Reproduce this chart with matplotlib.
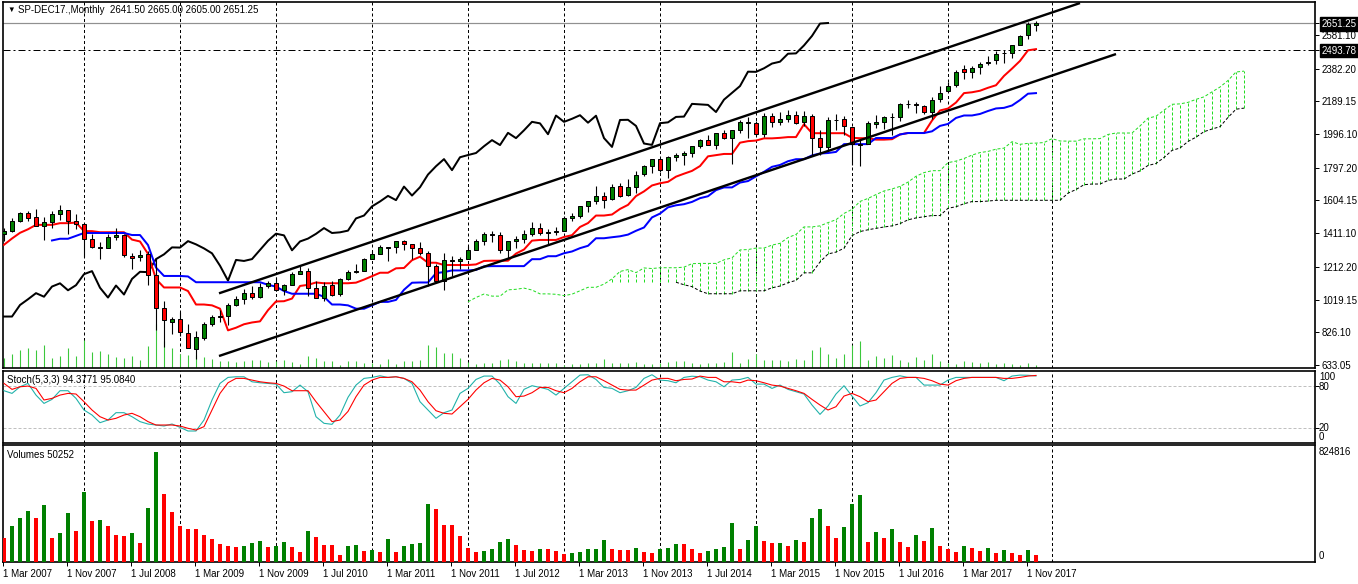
import matplotlib
matplotlib.use("Agg")
import matplotlib.pyplot as plt

plt.rcParams['font.family'] = ['Liberation Sans', 'DejaVu Sans']
plt.rcParams['lines.scale_dashes'] = False

# monthly bars, Mar 2007 .. Dec 2017 (index 0 = Mar 2007)
opens = [1407, 1421, 1482, 1531, 1505, 1455, 1474, 1527, 1546, 1480,
         1468, 1379, 1330, 1326, 1386, 1400, 1277, 1269, 1288, 1164,
         969, 889, 903, 823, 730, 794, 873, 923, 921, 990,
         1020, 1055, 1036, 1099, 1117, 1074, 1105, 1171, 1189, 1087,
         1031, 1108, 1050, 1143, 1186, 1187, 1258, 1289, 1329, 1329,
         1365, 1345, 1321, 1293, 1219, 1131, 1251, 1247, 1259, 1312,
         1365, 1408, 1398, 1310, 1362, 1379, 1407, 1441, 1412, 1416,
         1426, 1498, 1515, 1569, 1598, 1632, 1610, 1689, 1636, 1682,
         1759, 1807, 1846, 1783, 1858, 1874, 1884, 1924, 1962, 1930,
         2004, 1971, 2018, 2066, 2059, 1997, 2105, 2068, 2087, 2109,
         2067, 2104, 1970, 1920, 2081, 2083, 2038, 1937, 1937, 2057,
         2067, 2094, 2099, 2173, 2171, 2164, 2129, 2200, 2252, 2286,
         2380, 2362, 2389, 2416, 2431, 2477, 2474, 2521, 2583, 2641.5]
highs = [1439, 1498, 1536, 1541, 1556, 1504, 1539, 1576, 1546, 1524,
         1472, 1404, 1360, 1405, 1440, 1404, 1292, 1313, 1303, 1264,
         1008, 919, 944, 875, 833, 889, 930, 956, 997, 1039,
         1080, 1101, 1114, 1130, 1150, 1112, 1181, 1220, 1205, 1131,
         1121, 1129, 1149, 1196, 1227, 1263, 1303, 1344, 1332, 1367,
         1371, 1345, 1356, 1307, 1229, 1293, 1278, 1269, 1333, 1378,
         1419, 1422, 1415, 1363, 1392, 1427, 1475, 1471, 1434, 1448,
         1510, 1531, 1570, 1598, 1687, 1654, 1699, 1710, 1730, 1775,
         1814, 1849, 1851, 1868, 1884, 1897, 1924, 1968, 1991, 2005,
         2019, 2018, 2076, 2094, 2072, 2120, 2118, 2126, 2135, 2130,
         2133, 2113, 2021, 2094, 2116, 2104, 2038, 1963, 2072, 2111,
         2103, 2121, 2177, 2194, 2188, 2170, 2214, 2278, 2301, 2372,
         2401, 2398, 2419, 2454, 2484, 2491, 2519, 2583, 2658, 2665]
lows = [1364, 1416, 1477, 1484, 1454, 1371, 1439, 1490, 1406, 1436,
        1270, 1325, 1257, 1324, 1373, 1272, 1200, 1247, 1106, 840,
        741, 816, 804, 735, 667, 783, 866, 889, 869, 979,
        992, 1020, 1029, 1086, 1072, 1045, 1105, 1171, 1041, 1028,
        1011, 1040, 1040, 1132, 1173, 1187, 1258, 1289, 1249, 1295,
        1312, 1258, 1283, 1102, 1114, 1075, 1159, 1202, 1259, 1312,
        1340, 1357, 1292, 1267, 1325, 1355, 1397, 1403, 1343, 1398,
        1426, 1485, 1501, 1536, 1581, 1560, 1605, 1627, 1633, 1646,
        1746, 1768, 1770, 1738, 1834, 1814, 1860, 1916, 1931, 1905,
        1964, 1821, 2001, 1973, 1988, 1981, 2040, 2048, 2068, 2056,
        2044, 1867, 1872, 1894, 2019, 1993, 1812, 1810, 1937, 2034,
        2026, 1992, 2074, 2148, 2119, 2115, 2084, 2187, 2245, 2272,
        2322, 2329, 2353, 2406, 2408, 2417, 2447, 2520, 2557, 2605]
closes = [1421, 1482, 1531, 1503, 1455, 1474, 1527, 1549, 1481, 1468,
          1379, 1331, 1323, 1386, 1400, 1280, 1267, 1283, 1166, 969,
          896, 903, 826, 735, 798, 873, 919, 919, 987, 1021,
          1057, 1036, 1096, 1115, 1074, 1104, 1169, 1187, 1089, 1031,
          1102, 1049, 1141, 1183, 1181, 1258, 1286, 1327, 1326, 1364,
          1345, 1321, 1292, 1219, 1131, 1253, 1247, 1258, 1312, 1366,
          1408, 1398, 1310, 1362, 1379, 1407, 1441, 1412, 1416, 1426,
          1498, 1515, 1569, 1598, 1631, 1606, 1686, 1633, 1682, 1757,
          1806, 1848, 1783, 1859, 1872, 1884, 1924, 1960, 1931, 2003,
          1972, 2018, 2068, 2059, 1995, 2105, 2068, 2086, 2107, 2063,
          2104, 1972, 1920, 2079, 2080, 2044, 1940, 1932, 2060, 2065,
          2097, 2099, 2174, 2171, 2168, 2126, 2199, 2239, 2279, 2364,
          2363, 2384, 2412, 2423, 2470, 2472, 2519, 2575, 2648, 2651.25]

# Ichimoku lines
tenkan = [1342.5, 1379.5, 1413, 1434, 1460, 1460, 1460, 1470, 1470, 1473.5,
          1423, 1423, 1416.5, 1416.5, 1416.5, 1416.5, 1373, 1362, 1289, 1140,
          1090.5, 1090.5, 1090.5, 1069.5, 990, 990, 985, 965.5, 837.5, 853,
          873.5, 884, 890.5, 956.5, 1008, 1009.5, 1025, 1099.5, 1106, 1120,
          1115.5, 1115.5, 1115.5, 1115.5, 1119, 1137, 1157, 1177.5, 1177.5, 1203.5,
          1205.5, 1251.5, 1272, 1236.5, 1236.5, 1223, 1223, 1223, 1223, 1226.5,
          1247, 1248.5, 1248.5, 1248.5, 1290.5, 1314.5, 1367, 1371, 1371, 1371,
          1388.5, 1399, 1447.5, 1470.5, 1515, 1515, 1521, 1554, 1578, 1630,
          1657.5, 1692.5, 1705.5, 1714, 1744.5, 1762, 1778.5, 1807, 1864.5, 1871.5,
          1878.5, 1878.5, 1945, 1954, 1957.5, 1970.5, 1970.5, 1973.5, 1978, 1978,
          2054, 2001, 2001, 2001, 2001, 2001, 1973.5, 1971.5, 1971.5, 1963,
          1963, 1965.5, 1993.5, 2002, 2002, 2002, 2075.5, 2135, 2146.5, 2182,
          2237.5, 2242.5, 2251.5, 2269, 2284, 2339, 2382, 2427.5, 2490, 2497]
kijun_start = 6
kijun = [1368, 1378, 1378, 1395,
         1412, 1412, 1412, 1412, 1412, 1412, 1400, 1400, 1341, 1208,
         1158.5, 1158.5, 1158.5, 1155.5, 1121.5, 1121.5, 1121.5, 1121.5, 1121.5, 1121.5,
         1121.5, 1121.5, 1121.5, 1106.5, 1095.5, 1069.5, 1053.5, 1053.5, 1053.5, 1053.5,
         1035.5, 990, 990, 985, 965.5, 965, 985, 1005.5, 1005.5, 1017,
         1077, 1118.5, 1120, 1120, 1175, 1181.5, 1191, 1191, 1191, 1194.5,
         1215, 1216.5, 1216.5, 1216.5, 1216.5, 1216.5, 1257.5, 1257.5, 1275, 1275,
         1292.5, 1303, 1322.5, 1336.5, 1381, 1381, 1387, 1392.5, 1402.5, 1425,
         1444.5, 1504, 1526.5, 1563.5, 1575.5, 1582, 1595.5, 1617.5, 1629, 1665,
         1681, 1681, 1709.5, 1718.5, 1746, 1773, 1802.5, 1813.5, 1835.5, 1847.5,
         1847.5, 1870, 1881, 1884, 1890.5, 1936.5, 1936.5, 1936.5, 1936.5, 1972.5,
         1972.5, 1972.5, 1993.5, 2002, 2002, 2002, 2012, 2044, 2055.5, 2091,
         2105.5, 2105.5, 2114.5, 2132, 2147, 2150.5, 2164.5, 2196.5, 2234, 2237.5]
span_a_start = 58
span_a = [1006, 1031.5, 1051.75, 1039.5, 1039.25, 1076.5, 1079.75, 1086.75, 1075.5, 1052.75,
          1052.75, 1050.25, 1042.25, 1051, 1071, 1091.5, 1091.5, 1110.25, 1141.25, 1185,
          1196, 1178.25, 1205.75, 1202.25, 1207, 1207, 1207, 1210.5, 1231, 1232.5,
          1232.5, 1232.5, 1253.5, 1265.5, 1312.25, 1314.25, 1323, 1323, 1340.5, 1351,
          1385, 1403.5, 1448, 1448, 1454, 1473.25, 1490.25, 1527.5, 1551, 1598.25,
          1616, 1638.75, 1660, 1672, 1687, 1712.25, 1746.75, 1768.25, 1779.75, 1779.75,
          1827.25, 1836.25, 1851.75, 1871.75, 1886.5, 1893.5, 1906.75, 1912.75, 1950.75, 1935.5,
          1941, 1942.5, 1945.75, 1968.75, 1955, 1954, 1954, 1967.75, 1967.75, 1969,
          1993.5, 2002, 2002, 2002, 2043.75, 2089.5, 2101, 2136.5, 2171.5, 2174,
          2183, 2200.5, 2215.5, 2244.75, 2273.25, 2312, 2362, 2367.25]
span_b_start = 76
span_b_line_start = 84
span_b = [1121.5, 1121.5, 1121.5, 1121.5, 1121.5, 1121.5, 1121.5, 1121.5, 1121.5, 1106.5,
          1095.5, 1069.5, 1053.5, 1053.5, 1053.5, 1053.5, 1071, 1071, 1071, 1071,
          1088.5, 1099, 1118.5, 1132.5, 1177, 1177, 1241, 1288, 1299.5, 1322,
          1396.5, 1420.5, 1431, 1439.5, 1447.5, 1454, 1467.5, 1489.5, 1501, 1508,
          1515, 1515, 1558, 1567, 1584.5, 1597.5, 1597.5, 1600.5, 1605, 1605,
          1605, 1605, 1605, 1605, 1605, 1605, 1605, 1647, 1668.5, 1697,
          1701, 1701, 1722, 1730.5, 1730.5, 1759.5, 1778.5, 1810.5, 1822, 1857.5,
          1899.5, 1913.5, 1952, 1977.5, 2010, 2025.5, 2039.5, 2094, 2142.5, 2149]
chikou_shift = 26

# Stochastic (5,3,3)
stoch_k = [73.4, 69.6, 79, 83.8, 67.2, 55.4, 61.1, 73.4, 73.4, 62.5,
           46, 38.9, 28, 31.8, 42.2, 42.2, 36.5, 29.5, 26.1, 24.7,
           23.3, 26.1, 21.4, 16.2, 16.2, 31.8, 60.2, 83.8, 92.3, 93.2,
           93.2, 86.1, 84.7, 83.8, 82.8, 70.6, 72, 81.4, 72, 36.5,
           27.1, 25.7, 38.9, 64, 81.4, 90.9, 92.3, 94.6, 92.3, 93.2,
           90.9, 83.8, 57.8, 46, 34.2, 42.2, 46, 69.6, 76.7, 89.4,
           94.2, 94.2, 82.8, 64.9, 55.4, 75.3, 80.5, 78.1, 75.3, 67.2,
           76.7, 86.1, 95.6, 96.1, 89.4, 78.1, 76.7, 70.6, 73.4, 78.1,
           90.9, 96.1, 88.5, 87.6, 84.7, 92.3, 94, 93.2, 88.5, 86.1,
           79, 88.5, 89.4, 92.3, 82.8, 82.8, 76.7, 81.4, 75.3, 72,
           68.7, 53.1, 39.8, 51.7, 68.7, 80.5, 65.8, 51.7, 56.4, 70.6,
           88.5, 92.3, 94.6, 92.3, 92.3, 81.4, 81.4, 81.4, 88.5, 92.3,
           92.3, 92.3, 92.3, 92.3, 92.3, 87.6, 94.2, 95.6, 95.3, 94.38]
stoch_d = [83.8, 75.3, 79, 80, 76.7, 60.2, 62.5, 67.2, 69.6, 68.7,
           57.8, 46, 36.5, 31.8, 34.2, 38.9, 41.3, 36.5, 29.5, 24.7,
           24.7, 24.7, 23.3, 20, 17.6, 22.4, 46, 69.6, 84.7, 90.9,
           90.9, 88.5, 86.1, 84.7, 83.8, 80, 73.4, 73.4, 73.4, 57.8,
           43.6, 29.5, 31.8, 44, 64.9, 81.4, 88.5, 92.3, 92.3, 93.2,
           90.9, 86.1, 74.3, 57.8, 45, 41.3, 40.3, 50.7, 61.1, 74.3,
           84.7, 90.9, 88.5, 79, 64.9, 65.8, 70.6, 78.1, 78.1, 73.4,
           70.6, 76.7, 86.1, 93.2, 93.2, 87.6, 81.4, 75.3, 74.3, 74.3,
           81.4, 88.5, 90.9, 90.9, 87.6, 89.4, 90, 94.2, 92.3, 92.3,
           86.1, 86.1, 84.7, 88.5, 87.6, 84.7, 81.4, 80, 76.7, 73.4,
           69.6, 61.1, 53.1, 46, 50.7, 65.8, 69.6, 64.9, 57.8, 60.2,
           72, 83.8, 90.9, 92.3, 92.3, 90.9, 87.6, 82.8, 81.4, 87.6,
           90.9, 92.3, 92.3, 92.3, 92.3, 90.9, 90.9, 92.3, 94.2, 95.08]

volumes = [181900, 271600, 331400, 383800, 331400, 428600, 181900, 219300, 368800, 234200,
           525800, 309000, 316500, 271600, 204300, 196900, 219300, 144500, 406200, 824816,
           510900, 376300, 271600, 249200, 245000, 204300, 174400, 137100, 122100, 114600,
           122100, 144500, 159500, 114600, 122100, 152000, 114600, 77300, 234200, 189400,
           129600, 127000, 54800, 122100, 129600, 84700, 92200, 77300, 174400, 77300,
           122100, 137100, 144500, 436100, 398700, 279100, 276000, 196900, 107200, 77300,
           84700, 99700, 152000, 174400, 129600, 92200, 84700, 99700, 98000, 84700,
           62300, 69800, 77300, 99700, 101000, 167000, 99700, 92200, 91000, 107200,
           77300, 69800, 99700, 107200, 137100, 135000, 99700, 69800, 84700, 99700,
           114600, 294100, 99700, 167000, 271600, 159500, 144500, 146000, 122100, 167000,
           152000, 331400, 398700, 271600, 181900, 264200, 436100, 503400, 152000, 226800,
           181900, 249200, 152000, 114600, 204300, 159500, 256700, 122100, 99700, 77300,
           122100, 107200, 84700, 107200, 69800, 92200, 69800, 54800, 92200, 50252]

# channel trend lines: (bar, price) end points
trend_lines = [((26.875, 1056), (134.5, 2769)),
               ((26.875, 686), (139.0, 2468))]
bid_price = 2651.25
hline_price = 2493.78
price_ticks = [2651.25, 2581.10, 2493.78, 2382.20, 2189.15, 1996.10, 1797.20,
               1604.15, 1411.10, 1212.20, 1019.15, 826.10, 633.05]
grid_bars = [10, 22, 34, 46, 58, 70, 82, 94, 106, 118, 131]
date_labels = ["1 Mar 2007", "1 Nov 2007", "1 Jul 2008", "1 Mar 2009", "1 Nov 2009",
               "1 Jul 2010", "1 Mar 2011", "1 Nov 2011", "1 Jul 2012", "1 Mar 2013",
               "1 Nov 2013", "1 Jul 2014", "1 Mar 2015", "1 Nov 2015", "1 Jul 2016",
               "1 Mar 2017", "1 Nov 2017"]

UP = '#008000'
DOWN = '#FF0000'
CLOUD = '#22DD22'
W, H = 1358, 584
PX = 0.72  # one pixel in points

n = len(closes)
xs = list(range(n))

fig = plt.figure(figsize=(W / 100, H / 100), dpi=100)


def box(top, bottom):
    return [3 / W, 1 - bottom / H, 1312 / W, (bottom - top) / H]


def ptext(x, y, s, size=7):
    fig.text(x / W, 1 - y / H, s, va='center', ha='left', fontsize=size)


ax = fig.add_axes(box(2, 368))
ax_st = fig.add_axes(box(371, 443), sharex=ax)
ax_v = fig.add_axes(box(445, 562), sharex=ax)

grid_style = (0, (3 * PX, 2.5 * PX))
for a in (ax, ax_st, ax_v):
    for g in grid_bars:
        a.axvline(g, color='black', lw=PX, ls=grid_style, zorder=0.5)
    for sp in a.spines.values():
        sp.set_linewidth(1.2)
        sp.set_color('black')

# ---- main chart ----
vmax = max(volumes)
ax.vlines(xs, 0, [v / vmax * 0.12 for v in volumes], transform=ax.get_xaxis_transform(),
          color='#3CC83C', lw=1.1 * PX, zorder=1)

# kumo hatch where span A is above span B
cloud_dash = (0, (3 * PX, 2 * PX))
for k, b in enumerate(span_b):
    j = span_b_start + k
    a_val = span_a[j - span_a_start]
    if a_val > b:
        ax.vlines(j, b, a_val, colors=CLOUD, linestyles=[cloud_dash], lw=PX, zorder=1.5)
ax.plot(range(span_a_start, span_a_start + len(span_a)), span_a, color=CLOUD,
        lw=PX, ls=cloud_dash, zorder=2)
off = span_b_line_start - span_b_start
ax.plot(range(span_b_line_start, span_b_start + len(span_b)), span_b[off:], color='black',
        lw=PX, ls=cloud_dash, zorder=2)

ax.plot(range(n - chikou_shift), closes[chikou_shift:], color='black', lw=2 * PX, zorder=3)
ax.plot(xs, tenkan, color='#FF0000', lw=2 * PX, zorder=3)
ax.plot(range(kijun_start, kijun_start + len(kijun)), kijun, color='#0000FF', lw=2 * PX, zorder=3)

ax.vlines(xs, lows, highs, color='black', lw=1.1 * PX, zorder=4)
body_colors = [UP if c >= o else DOWN for o, c in zip(opens, closes)]
ax.bar(xs, [c - o for o, c in zip(opens, closes)], bottom=opens, width=0.55,
       color=body_colors, edgecolor='black', lw=PX, zorder=5)

for (x0, y0), (x1, y1) in trend_lines:
    ax.plot([x0, x1], [y0, y1], color='black', lw=2.4 * PX, zorder=6, solid_capstyle='butt')

ax.axhline(bid_price, color='#909090', lw=1.2 * PX, zorder=2.5)
ax.axhline(hline_price, color='black', lw=PX, ls=(0, (7 * PX, 3 * PX, 2 * PX, 3 * PX)), zorder=2.5)

ax.set_xlim(-0.125, 163.875)
ax.set_ylim(615.3, 2775.2)
ax.yaxis.tick_right()
ax.set_yticks(price_ticks)
ax.set_yticklabels(["%.2f" % p for p in price_ticks])
ax.tick_params(axis='y', right=True, left=False, length=3, width=PX, direction='out',
               labelsize=7, pad=2)
ax.tick_params(axis='x', bottom=False, labelbottom=False)
for lab, p in zip(ax.get_yticklabels(), price_ticks):
    if p in (bid_price, hline_price):
        lab.set_color('white')
        lab.set_bbox(dict(facecolor='black', edgecolor='black', pad=1.2))

# ---- stochastic ----
ax_st.axhline(80, color='#C0C0C0', lw=PX, ls=(0, (3 * PX, 2 * PX)), zorder=1)
ax_st.axhline(20, color='#C0C0C0', lw=PX, ls=(0, (3 * PX, 2 * PX)), zorder=1)
ax_st.plot(xs, stoch_k, color='#20B2AA', lw=1.1 * PX, zorder=3)
ax_st.plot(xs, stoch_d, color='#FF0000', lw=1.1 * PX, zorder=3)
ax_st.set_ylim(-0.85, 101.4)
ax_st.set_yticks([20, 80])
ax_st.yaxis.tick_right()
ax_st.tick_params(axis='y', right=True, left=False, length=3, width=PX, labelright=False)
ax_st.tick_params(axis='x', bottom=False, labelbottom=False)

# ---- volumes ----
vol_colors = []
prev = None
for v in volumes:
    vol_colors.append(UP if prev is not None and v > prev else DOWN)
    prev = v
ax_v.bar(xs, volumes, width=0.62, color=vol_colors, zorder=3)
ax_v.set_ylim(0, 877000)
ax_v.set_yticks([])
ax_v.set_xticks([i * 8 - 0.1 for i in range(len(date_labels))])
ax_v.set_xticklabels(date_labels)
ax_v.tick_params(axis='x', length=3, width=PX, direction='out', labelsize=7, pad=2)
for lab in ax_v.get_xticklabels():
    lab.set_horizontalalignment('left')
ax_v.set_xlim(-0.125, 163.875)

# ---- texts ----
ptext(7, 10, "\u25BC", size=5.5)
ptext(18, 10, "SP-DEC17.,Monthly  2641.50 2665.00 2605.00 2651.25")
ptext(7, 380, "Stoch(5,3,3) 94.3771 95.0840")
ptext(7, 455, "Volumes 50252")
ptext(1319, 377, "100")
ptext(1319, 387, "80")
ptext(1319, 428, "20")
ptext(1319, 437, "0")
ptext(1319, 452, "824816")
ptext(1319, 556, "0")

fig.savefig("out.png", dpi=100)
